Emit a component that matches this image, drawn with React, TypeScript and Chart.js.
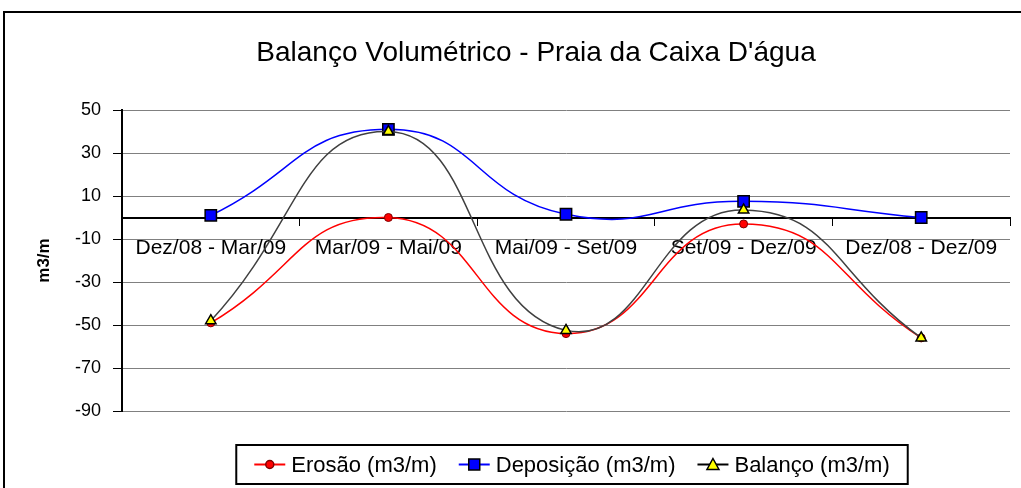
import React, { useEffect, useRef } from "react";
import { Chart, registerables } from "chart.js";

Chart.register(...registerables);

const title = "Balanço Volumétrico - Praia da Caixa D'água";
const yAxisTitle = "m3/m";
const categories = [
  "Dez/08 - Mar/09",
  "Mar/09 - Mai/09",
  "Mai/09 - Set/09",
  "Set/09 - Dez/09",
  "Dez/08 - Dez/09",
];
const erosao = [-49, 0, -54, -3, -56];
const deposicao = [1, 41, 1.5, 7.5, 0];
const balanco = [-48, 40, -52.5, 3.5, -56];
const seriesNames = ["Erosão (m3/m)", "Deposição (m3/m)", "Balanço (m3/m)"];
const yMin = -90;
const yMax = 50;
const yStep = 20;

const FONT = "'Liberation Sans', Arial, sans-serif";

function drawMarker(ctx: CanvasRenderingContext2D, kind: string, x: number, y: number) {
  ctx.save();
  ctx.lineWidth = 1.5;
  if (kind === "circle") {
    ctx.fillStyle = "#ff0000";
    ctx.strokeStyle = "#800000";
    ctx.beginPath();
    ctx.arc(x, y, 4, 0, Math.PI * 2);
    ctx.fill();
    ctx.stroke();
  } else if (kind === "rect") {
    ctx.fillStyle = "#0000ff";
    ctx.strokeStyle = "#000000";
    ctx.fillRect(x - 5.5, y - 5.5, 11, 11);
    ctx.strokeRect(x - 5.5, y - 5.5, 11, 11);
  } else {
    ctx.fillStyle = "#ffff00";
    ctx.strokeStyle = "#000000";
    ctx.beginPath();
    ctx.moveTo(x, y - 6);
    ctx.lineTo(x + 6, y + 5);
    ctx.lineTo(x - 6, y + 5);
    ctx.closePath();
    ctx.fill();
    ctx.stroke();
  }
  ctx.restore();
}

const framePlugin = {
  id: "frame",
  beforeDraw(chart: any) {
    const ctx = chart.ctx;
    ctx.save();
    ctx.fillStyle = "#ffffff";
    ctx.fillRect(0, 0, chart.width, chart.height);
    ctx.strokeStyle = "#000000";
    ctx.lineWidth = 2;
    ctx.beginPath();
    ctx.moveTo(4, chart.height + 2);
    ctx.lineTo(4, 12);
    ctx.lineTo(chart.width + 2, 12);
    ctx.stroke();
    // title
    ctx.fillStyle = "#000";
    ctx.font = `28px ${FONT}`;
    ctx.textAlign = "center";
    ctx.textBaseline = "middle";
    ctx.fillText(title, (chart.chartArea.left + chart.chartArea.right) / 2 - 30, 53);
    ctx.restore();
  },
};

const legendPlugin = {
  id: "customLegend",
  afterDraw(chart: any) {
    const ctx = chart.ctx;
    const colors = ["#ff0000", "#0000ff", "#000000"];
    const markers = ["circle", "rect", "triangle"];
    ctx.save();
    ctx.font = `22px ${FONT}`;
    ctx.textBaseline = "middle";
    const lineW = 31;
    const gapAfterLine = 6;
    const gapItems = 22;
    const widths = seriesNames.map((n) => ctx.measureText(n).width);
    const total = widths.reduce((a, b) => a + b, 0) + 3 * (lineW + gapAfterLine) + 2 * gapItems;
    const padX = 18;
    const boxW = total + padX * 2;
    const boxH = 39;
    const cx = (chart.chartArea.left + chart.chartArea.right) / 2 + 6;
    const boxX = cx - boxW / 2;
    const boxY = chart.height - boxH - 4;
    ctx.strokeStyle = "#000";
    ctx.lineWidth = 2;
    ctx.strokeRect(boxX, boxY, boxW, boxH);
    let x = boxX + padX;
    const y = boxY + boxH / 2;
    seriesNames.forEach((name, i) => {
      ctx.strokeStyle = colors[i];
      ctx.lineWidth = 2;
      ctx.beginPath();
      ctx.moveTo(x, y);
      ctx.lineTo(x + lineW, y);
      ctx.stroke();
      drawMarker(ctx, markers[i], x + lineW / 2, y);
      x += lineW + gapAfterLine;
      ctx.fillStyle = "#000";
      ctx.fillText(name, x, y + 1);
      x += widths[i] + gapItems;
    });
    ctx.restore();
  },
};

export default function App() {
  const canvasRef = useRef<HTMLCanvasElement | null>(null);

  useEffect(() => {
    if (!canvasRef.current) return;
    const chart = new Chart(canvasRef.current, {
      type: "line",
      data: {
        labels: categories,
        datasets: [
          {
            label: seriesNames[0],
            data: erosao,
            borderColor: "#ff0000",
            borderWidth: 1.5,
            backgroundColor: "#ff0000",
            pointStyle: "circle",
            pointRadius: 4,
            pointBackgroundColor: "#ff0000",
            pointBorderColor: "#800000",
            pointBorderWidth: 1,
            tension: 0.5,
            order: 2,
          },
          {
            label: seriesNames[1],
            data: deposicao,
            borderColor: "#0000ff",
            borderWidth: 1.5,
            backgroundColor: "#0000ff",
            pointStyle: "rect",
            pointRadius: 8,
            pointBackgroundColor: "#0000ff",
            pointBorderColor: "#000000",
            pointBorderWidth: 1.5,
            tension: 0.5,
            order: 1,
          },
          {
            label: seriesNames[2],
            data: balanco,
            borderColor: "#404040",
            borderWidth: 1.5,
            backgroundColor: "#ffff00",
            pointStyle: "triangle",
            pointRadius: 6,
            pointBackgroundColor: "#ffff00",
            pointBorderColor: "#000000",
            pointBorderWidth: 1.5,
            tension: 0.5,
            order: 0,
          },
        ],
      },
      options: {
        responsive: false,
        maintainAspectRatio: false,
        animation: false,
        layout: { padding: { top: 110, left: 0, right: 11, bottom: 77 } },
        plugins: {
          legend: { display: false },
          tooltip: { enabled: false },
          title: { display: false },
        },
        scales: {
          x: {
            type: "category",
            position: { y: 0 } as any,
            offset: true,
            grid: {
              display: true,
              drawOnChartArea: false,
              drawTicks: true,
              tickLength: 7,
              tickColor: "#000",
              offset: true,
            },
            border: { display: true, color: "#000", width: 2 },
            ticks: {
              color: "#000",
              font: { family: FONT, size: 21 },
              padding: 11,
              maxRotation: 0,
              autoSkip: false,
            },
          },
          y: {
            min: yMin,
            max: yMax,
            grid: {
              color: "#808080",
              lineWidth: 1,
              tickColor: "#000",
              tickLength: 9,
              drawTicks: true,
            },
            border: { display: true, color: "#000", width: 2 },
            ticks: {
              stepSize: yStep,
              color: "#000",
              font: { family: FONT, size: 18 },
              padding: 12,
            },
            title: {
              display: true,
              text: yAxisTitle,
              color: "#000",
              font: { family: FONT, size: 17, weight: "bold" },
              padding: { top: 34, bottom: 0 },
            },
            afterFit: (scale: any) => {
              scale.width = 122;
            },
          },
        },
      },
      plugins: [framePlugin, legendPlugin],
    });
    return () => chart.destroy();
  }, []);

  return (
    <div style={{ position: "fixed", left: 0, top: 0, width: 1021, height: 488 }}>
      <canvas ref={canvasRef} width={1021} height={488} style={{ display: "block" }} />
    </div>
  );
}
